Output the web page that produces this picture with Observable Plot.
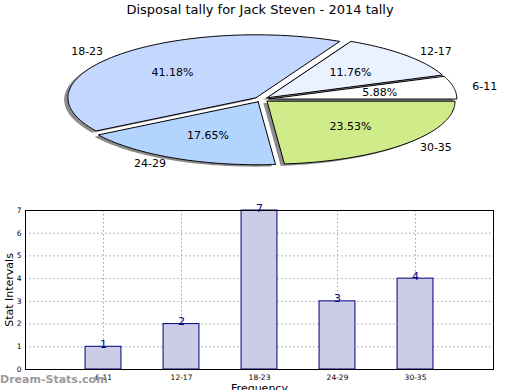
<!DOCTYPE html>
<html>
<head>
<meta charset="utf-8">
<script src="https://cdn.jsdelivr.net/npm/d3@7"></script>
<script src="https://cdn.jsdelivr.net/npm/@observablehq/plot@0.6"></script>
<style>
  html, body { margin: 0; padding: 0; background: #fff; }
  #chart { position: relative; width: 520px; height: 390px; overflow: hidden; font-family: "DejaVu Sans", sans-serif; }
  #chart svg { position: absolute; left: 0; overflow: visible; }
  #title { position: absolute; left: 0; top: 2px; width: 520px; text-align: center; font-size: 13px; line-height: 16px; color: #000; }
  #mark { position: absolute; left: 0; top: 372px; font-size: 11px; font-weight: bold; color: #9a9a9a; line-height: 15px; }
</style>
</head>
<body>
<div id="chart">
</div>
<script>
// ---- data ----
const title = "Disposal tally for Jack Steven - 2014 tally";
const categories = ["6-11", "12-17", "18-23", "24-29", "30-35"];
const counts = [1, 2, 7, 3, 4];
const pieColors = ["#ffffff", "#eaf1ff", "#c4d8ff", "#b2d4ff", "#d0eb8a"];
const yTicks = [0, 1, 2, 3, 4, 5, 6, 7];
const yLabel = "Stat Intervals";
const xLabel = "Frequency";
const watermark = "Dream-Stats.com";

// ---- pie geometry from values ----
const EXPLODE = 0.04;
const total = d3.sum(counts);
let acc = 0;
const slices = counts.map((c, i) => {
  const a0 = acc / total * 2 * Math.PI;
  acc += c;
  const a1 = acc / total * 2 * Math.PI;
  const mid = (a0 + a1) / 2;
  const ox = EXPLODE * Math.cos(mid), oy = EXPLODE * Math.sin(mid);
  const n = Math.max(2, Math.ceil((a1 - a0) / (Math.PI / 180)));
  const pts = [{x: ox, y: oy}];
  for (let k = 0; k <= n; k++) {
    const t = a0 + (a1 - a0) * k / n;
    pts.push({x: ox + Math.cos(t), y: oy + Math.sin(t)});
  }
  pts.push({x: ox, y: oy});
  return {
    cat: categories[i], count: c, color: pieColors[i], mid, ox, oy, pts,
    shadow: pts.map(p => ({x: p.x - 0.02, y: p.y - 0.03})),
    pct: (100 * c / total).toFixed(2) + "%",
    lx: ox + 1.1 * Math.cos(mid), ly: oy + 1.1 * Math.sin(mid),
    px: ox + 0.6 * Math.cos(mid), py: oy + 0.6 * Math.sin(mid)
  };
});

const chart = document.getElementById("chart");

const titleDiv = document.createElement("div");
titleDiv.id = "title";
titleDiv.textContent = title;

const pie = Plot.plot({
  width: 520, height: 190, margin: 0,
  style: {fontFamily: "DejaVu Sans, sans-serif", background: "transparent"},
  x: {domain: [-1, 1], range: [73, 449], axis: null},
  y: {domain: [-1, 1], range: [162, 36], axis: null},
  marks: [
    ...slices.map(s => Plot.line(s.shadow, {x: "x", y: "y", fill: "#8c8c8c", stroke: "none"})),
    ...slices.map(s => Plot.line(s.pts, {x: "x", y: "y", fill: s.color, stroke: "#000", strokeWidth: 1, strokeLinejoin: "miter"})),
    Plot.text(slices.filter(s => Math.cos(s.mid) < 0), {x: "lx", y: "ly", text: "cat", textAnchor: "end", fontSize: 11, fill: "#000"}),
    Plot.text(slices.filter(s => Math.cos(s.mid) >= 0), {x: "lx", y: "ly", text: "cat", textAnchor: "start", fontSize: 11, fill: "#000"}),
    Plot.text(slices, {x: "px", y: "py", text: "pct", textAnchor: "middle", fontSize: 11, fill: "#000"})
  ]
});
pie.style.top = "0px";

const barData = counts.map((c, i) => ({i, cat: categories[i], count: c}));

const bars = Plot.plot({
  width: 520, height: 190,
  marginTop: 10, marginBottom: 21, marginLeft: 25, marginRight: 27,
  style: {fontFamily: "DejaVu Sans, sans-serif", background: "transparent", color: "#000"},
  x: {domain: [-1, 5], axis: null},
  y: {domain: [0, 7], axis: null},
  marks: [
    Plot.gridX(d3.range(categories.length), {stroke: "#a0a0a0", strokeOpacity: 1, strokeDasharray: "1.5,2.5"}),
    Plot.gridY(yTicks.slice(1, -1), {stroke: "#a0a0a0", strokeOpacity: 1, strokeDasharray: "1.5,2.5"}),
    Plot.rectY(barData, {x1: d => d.i - 0.23, x2: d => d.i + 0.23, y: "count", fill: "#cccce6", stroke: "#000080", strokeWidth: 1}),
    Plot.frame({stroke: "#000", strokeWidth: 1}),
    Plot.axisX(d3.range(categories.length), {tickSize: 0, tickPadding: 5, tickFormat: i => categories[i], fontSize: 7.5, label: null}),
    Plot.axisY(yTicks, {tickSize: 0, tickPadding: 4, fontSize: 7.5, label: null}),
    Plot.text(barData, {x: "i", y: "count", text: d => String(d.count), lineAnchor: "bottom", dy: 1, fill: "#000080", fontSize: 11}),
    Plot.text([yLabel], {frameAnchor: "left", textAnchor: "middle", rotate: -90, dx: -16, fontSize: 11, fill: "#000"}),
    Plot.text([xLabel], {frameAnchor: "bottom", textAnchor: "middle", lineAnchor: "top", dy: 15, fontSize: 11, fill: "#000"})
  ]
});
bars.style.top = "200px";

const markDiv = document.createElement("div");
markDiv.id = "mark";
markDiv.textContent = watermark;

chart.appendChild(pie);
chart.appendChild(bars);
chart.appendChild(titleDiv);
chart.appendChild(markDiv);
</script>
</body>
</html>
